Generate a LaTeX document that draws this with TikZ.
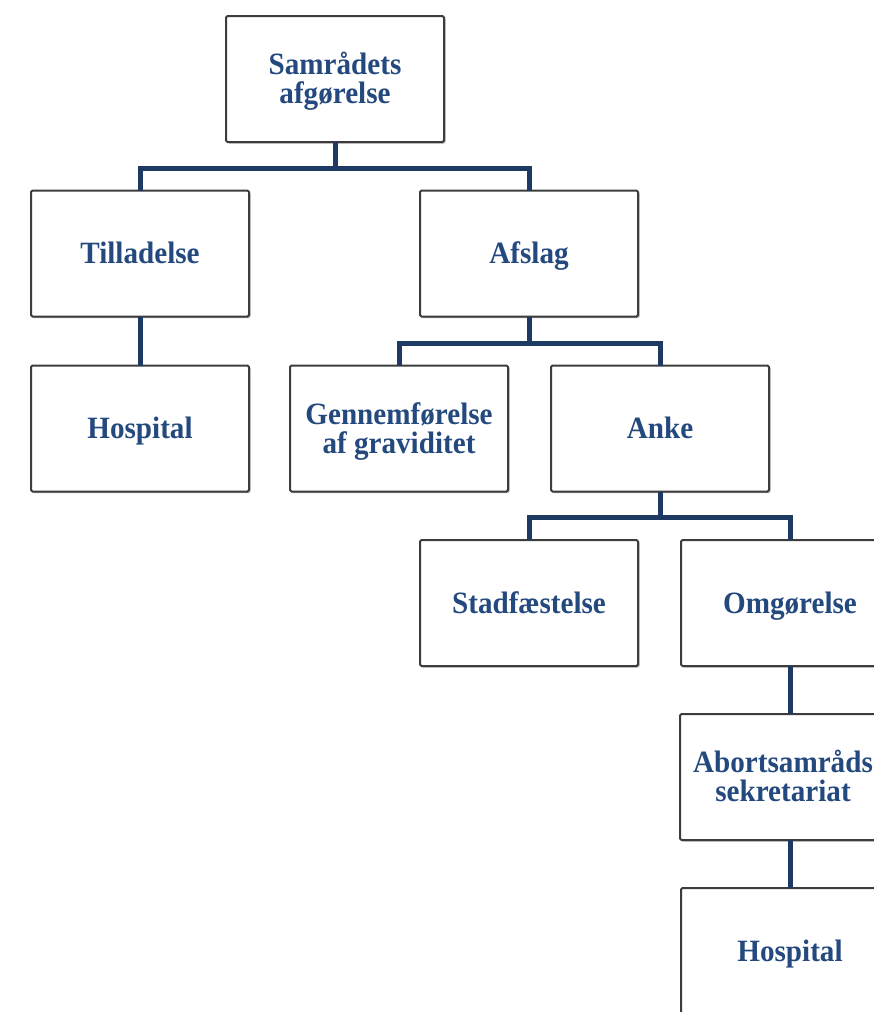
\documentclass[tikz,border=0pt]{standalone}
\usepackage{fontspec}
\setmainfont{Liberation Serif}
\newfontfamily\boxfont[FakeStretch=0.94]{Liberation Serif}
\usetikzlibrary{shadows}
\definecolor{txtblue}{HTML}{24497E}
\definecolor{linkblue}{HTML}{1F3A62}
\definecolor{boxline}{HTML}{3C3C3C}
\tikzset{
  orgbox/.style={draw=boxline, line width=2pt, fill=white, rounded corners=1.5pt,
    minimum width=218pt, minimum height=126pt, inner sep=0pt, outer sep=0pt,
    align=center, text=txtblue, font=\boxfont\fontsize{31}{29}\selectfont\bfseries,
    text height=20.5pt, text depth=0pt,
    drop shadow={shadow xshift=1.5pt, shadow yshift=-1.5pt, fill=black, opacity=0.3}},
  twoline/.style={text height=49.5pt},
  link/.style={draw=linkblue, line width=5pt}
}
\begin{document}
\begin{tikzpicture}[x=1pt,y=-1pt]
\useasboundingbox (0,0) rectangle (874,1012);
\clip (0,0) rectangle (874,1012);
\node[orgbox,twoline] (top) at (335,79) {Samrådets\\afgørelse};
\node[orgbox] (till) at (140,253.5) {Tilladelse};
\node[orgbox] (afslag) at (529,253.5) {Afslag};
\node[orgbox] (hosp1) at (140,428.5) {Hospital};
\node[orgbox,twoline] (gennem) at (399,428.5) {Gennemførelse\\af graviditet};
\node[orgbox] (anke) at (660,428.5) {Anke};
\node[orgbox] (stad) at (529,603) {Stadfæstelse};
\node[orgbox] (omg) at (790,603) {Omgørelse};
\node[orgbox,twoline,minimum width=206pt] (sekr) at (783,777) {Abortsamråds\\sekretariat};
\node[orgbox] (hosp2) at (790,951) {Hospital};
\coordinate (j1) at (335,168);
\coordinate (j2) at (529,343);
\coordinate (j3) at (660,517);
\draw[link] (top.south) -- (j1) -| (till.north);
\draw[link] (j1) -| (afslag.north);
\draw[link] (till.south) -- (hosp1.north);
\draw[link] (afslag.south) -- (j2) -| (gennem.north);
\draw[link] (j2) -| (anke.north);
\draw[link] (anke.south) -- (j3) -| (stad.north);
\draw[link] (j3) -| (omg.north);
\draw[link] (omg.south) -- (omg.south |- sekr.north);
\draw[link] (omg.south |- sekr.south) -- (hosp2.north);
\end{tikzpicture}
\end{document}
